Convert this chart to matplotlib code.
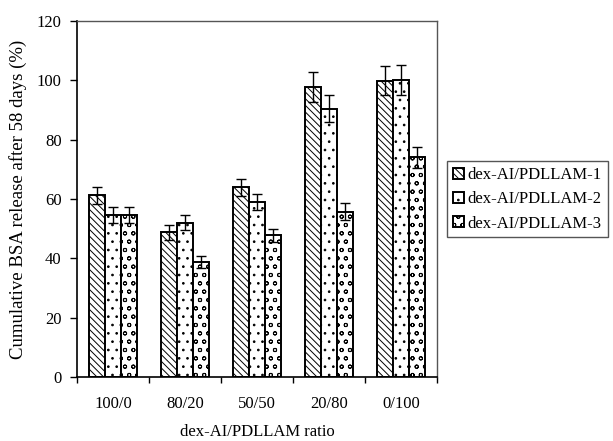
import numpy as np
import matplotlib
matplotlib.use("Agg")
import matplotlib.pyplot as plt

plt.rcParams["font.family"] = ["Liberation Serif", "DejaVu Serif"]
plt.rcParams["hatch.linewidth"] = 0.7

ratios = ["100/0", "80/20", "50/50", "20/80", "0/100"]
series = ["dex-AI/PDLLAM-1", "dex-AI/PDLLAM-2", "dex-AI/PDLLAM-3"]
release = [
    [61.2, 48.8, 63.9, 97.7, 99.9],
    [54.6, 52.0, 59.0, 90.4, 100.0],
    [54.6, 38.8, 47.7, 55.7, 74.0],
]
errors = [
    [3.0, 2.5, 3.0, 5.0, 5.0],
    [2.6, 2.6, 2.7, 4.5, 5.0],
    [2.6, 2.0, 2.2, 2.8, 3.4],
]
hatches = ["\\\\\\\\\\", "..", "oo"]

fig = plt.figure(figsize=(6.13, 4.41), dpi=100)
ax = fig.add_axes([0.1256, 0.1451, 0.5873, 0.8073])

x = np.arange(len(ratios))
w = 0.222
for i, (vals, err, h, lab) in enumerate(zip(release, errors, hatches, series)):
    ax.bar(x + (i - 1) * w, vals, w, yerr=err, color="white", edgecolor="black",
           linewidth=1.4, hatch=h, label=lab,
           error_kw=dict(ecolor="black", elinewidth=1.0, capsize=3.5, capthick=1.0))

ax.set_xlim(-0.5, len(ratios) - 0.5)
ax.set_ylim(0, 120)
ax.set_yticks(range(0, 121, 20))
ax.set_xticks(x)
ax.set_xticklabels(ratios, fontsize=12)
ax.tick_params(axis="x", length=0, pad=14)
ax.set_xticks(np.arange(len(ratios) + 1) - 0.5, minor=True)
ax.tick_params(axis="x", which="minor", length=4, direction="out", width=1)
ax.tick_params(axis="y", length=5, width=1, labelsize=12, pad=6)

for s in ["top", "right"]:
    ax.spines[s].set_color("#555555")
    ax.spines[s].set_linewidth(1.0)
for s in ["left", "bottom"]:
    ax.spines[s].set_linewidth(1.2)

ax.set_ylabel("Cumulative BSA release after 58 days (%)", fontsize=13.5, labelpad=7)
ax.set_xlabel("dex-AI/PDLLAM ratio", fontsize=12, labelpad=8)

leg = fig.legend(loc="center left", bbox_to_anchor=(0.729, 0.548), fontsize=12,
                 handlelength=0.65, handleheight=0.65, handletextpad=0.25,
                 labelspacing=0.5, borderpad=0.35, borderaxespad=0,
                 fancybox=False, framealpha=1)
leg.get_frame().set_edgecolor("#555555")
leg.get_frame().set_linewidth(1.0)

fig.savefig("out.png", dpi=100)
